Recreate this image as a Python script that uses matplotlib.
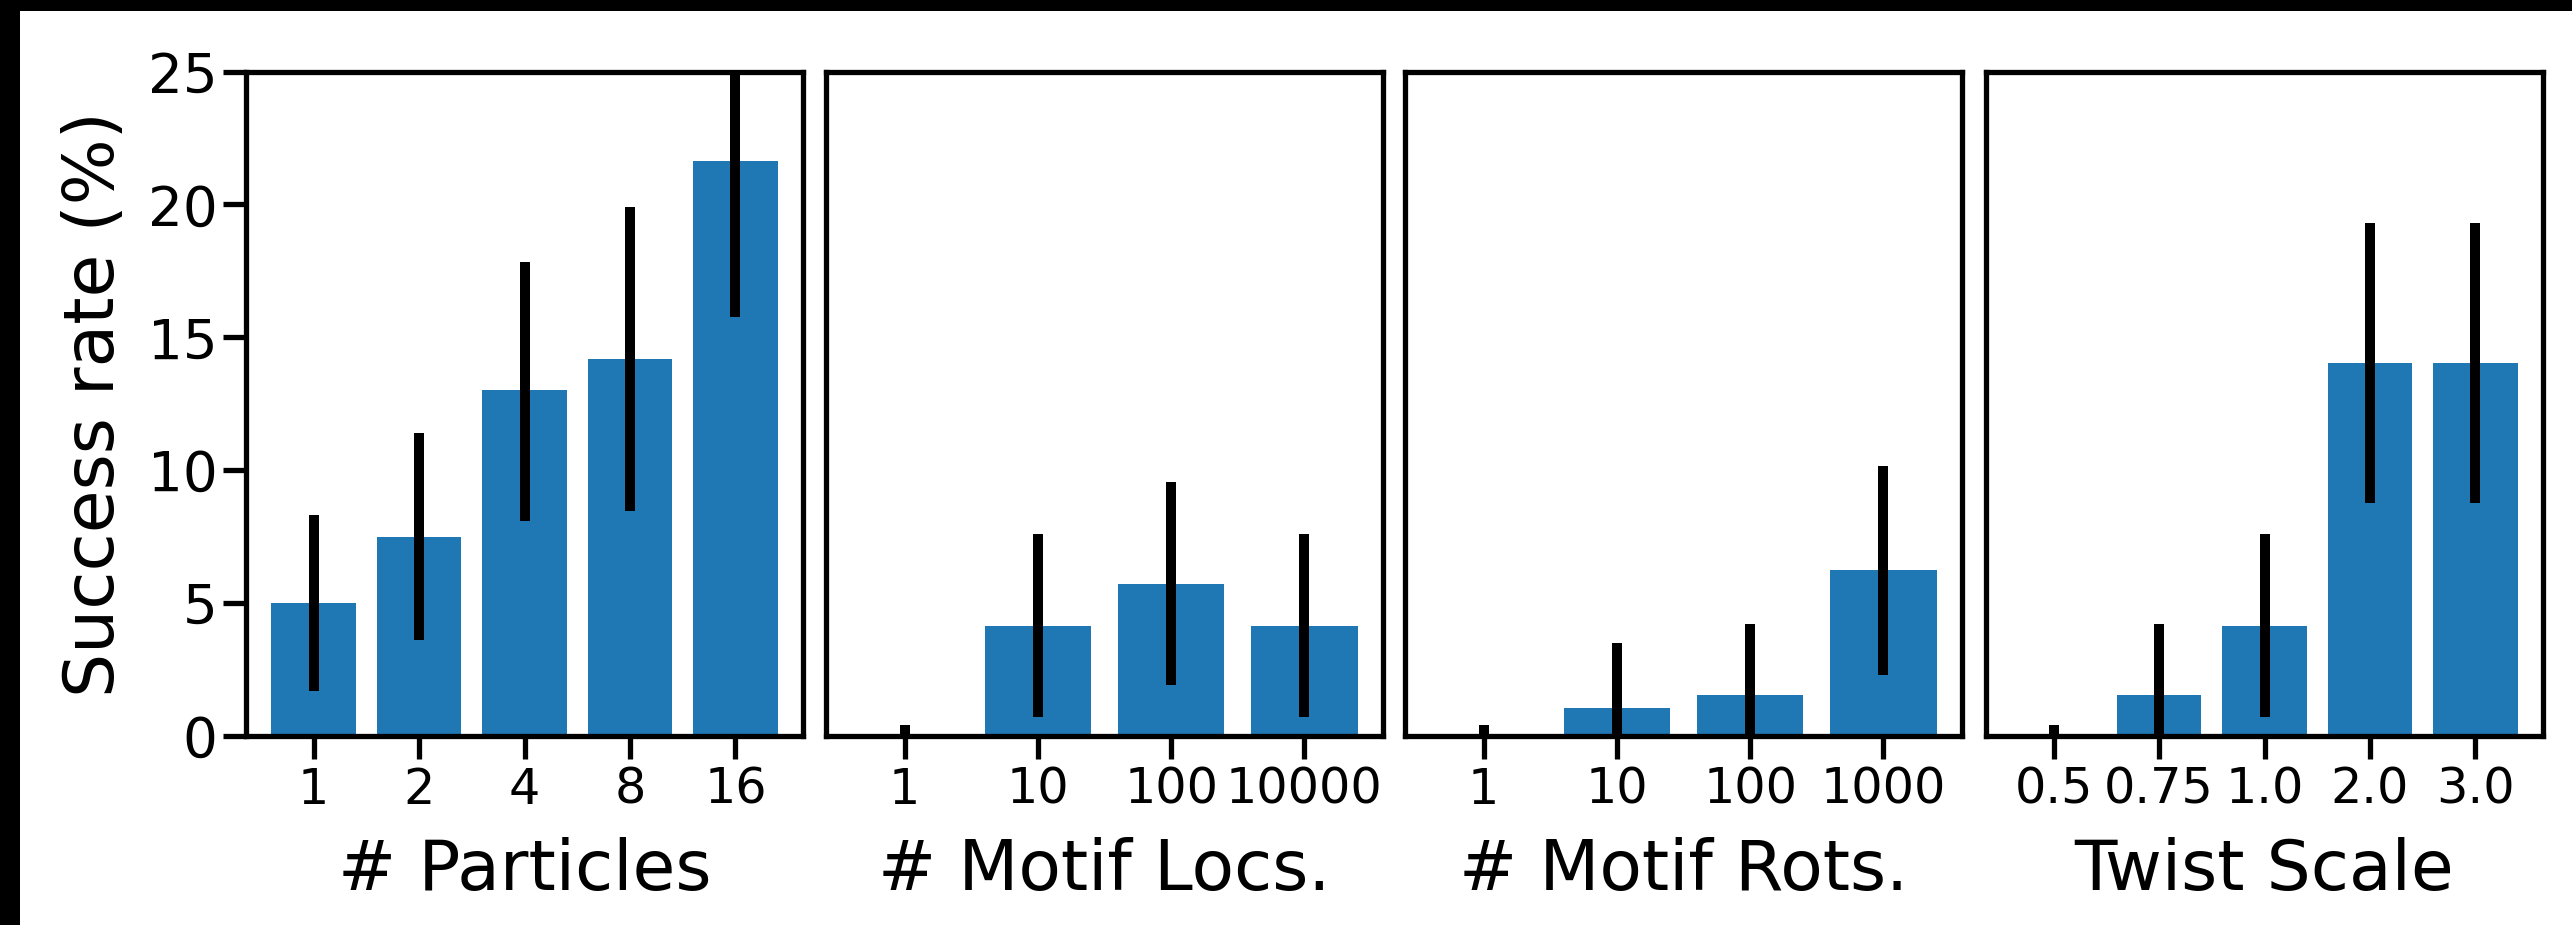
# -*- coding: utf-8 -*-
"""
Success rate vs. sampling settings - four bar panels with CI error bars
"""

import numpy as np
import matplotlib
matplotlib.use('Agg')
import matplotlib.pyplot as plt
from matplotlib.patches import Rectangle


# %% Data (success rate in %, with lower / upper confidence bounds)
particles = ['1', '2', '4', '8', '16']
particles_rate = [5.0, 7.5, 13.0, 14.2, 21.65]
particles_lo = [1.7, 3.6, 8.1, 8.45, 15.75]
particles_hi = [8.3, 11.4, 17.85, 19.9, 27.5]

motif_locs = ['1', '10', '100', '10000']
motif_locs_rate = [0.0, 4.15, 5.7, 4.15]
motif_locs_lo = [0.0, 0.7, 1.9, 0.7]
motif_locs_hi = [0.4, 7.6, 9.55, 7.6]

motif_rots = ['1', '10', '100', '1000']
motif_rots_rate = [0.0, 1.05, 1.55, 6.25]
motif_rots_lo = [0.0, 0.0, 0.0, 2.3]
motif_rots_hi = [0.4, 3.5, 4.2, 10.15]

twist_scale = ['0.5', '0.75', '1.0', '2.0', '3.0']
twist_scale_rate = [0.0, 1.55, 4.15, 14.05, 14.05]
twist_scale_lo = [0.0, 0.0, 0.7, 8.75, 8.75]
twist_scale_hi = [0.4, 4.2, 7.6, 19.3, 19.3]

panels = [
    ('# Particles', particles, particles_rate, particles_lo, particles_hi),
    ('# Motif Locs.', motif_locs, motif_locs_rate, motif_locs_lo, motif_locs_hi),
    ('# Motif Rots.', motif_rots, motif_rots_rate, motif_rots_lo, motif_rots_hi),
    ('Twist Scale', twist_scale, twist_scale_rate, twist_scale_lo, twist_scale_hi),
]

# %% Style
plt.rcParams['font.family'] = 'DejaVu Sans'
plt.rcParams['axes.linewidth'] = 3.8
bar_color = '#1f77b4'

my_fig = plt.figure(figsize=(25.72, 9.25), dpi=100)

# black frame on top / left edge, white canvas elsewhere
my_fig.patch.set_facecolor('black')
my_fig.patches.append(Rectangle((20 / 2572, 0), 1, 1 - 11 / 925,
                                transform=my_fig.transFigure,
                                facecolor='white', edgecolor='none', zorder=-10))

lefts = [246, 826, 1405, 1986]
ax_w = 557 / 2572
ax_b = 189 / 925
ax_h = 664.5 / 925

for nn, (xlabel, cats, rate, lo, hi) in enumerate(panels):
    ax = my_fig.add_axes([lefts[nn] / 2572, ax_b, ax_w, ax_h])
    x = np.arange(len(cats))
    rate = np.array(rate)
    yerr = np.vstack([rate - np.array(lo), np.array(hi) - rate])

    ax.bar(x, rate, width=0.8, color=bar_color)
    ax.errorbar(x, rate, yerr=yerr, fmt='none', ecolor='black',
                elinewidth=7.2, capsize=0)

    ax.set_ylim(0, 25)
    ax.set_xticks(x)
    ax.set_xticklabels(cats, fontsize=35.5)
    ax.set_xlabel(xlabel, fontsize=50, labelpad=17)
    ax.tick_params(axis='x', length=16.5, width=3.8, pad=5)

    if nn == 0:
        ax.set_yticks([0, 5, 10, 15, 20, 25])
        ax.tick_params(axis='y', length=16.5, width=3.8, labelsize=39.5, pad=4)
        ax.set_ylabel('Success rate (%)', fontsize=50, labelpad=14)
    else:
        ax.set_yticks([])

my_fig.savefig('out.png', dpi=100, facecolor=my_fig.get_facecolor())
